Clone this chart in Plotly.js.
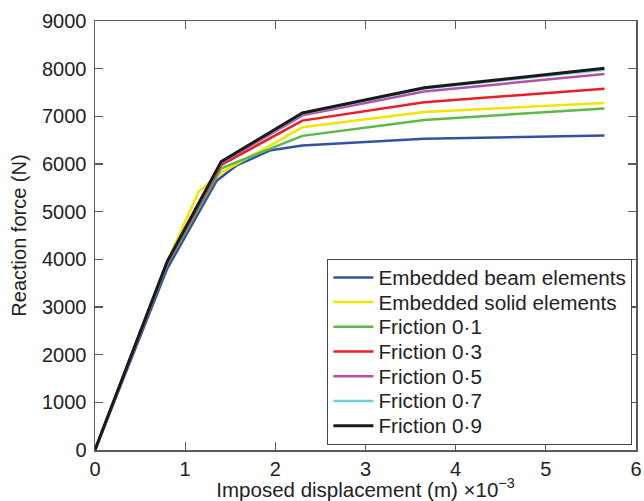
<!DOCTYPE html>
<html>
<head>
<meta charset="utf-8">
<script src="https://cdn.plot.ly/plotly-3.0.1.min.js"></script>
<style>
html,body{margin:0;padding:0;background:#fff}
#chart{width:644px;height:501px}
.legendtext{transform-box:fill-box;transform-origin:0% 50%;transform:scale(1.24,1.17)}
</style>
</head>
<body>
<div id="chart"></div>
<script>
// Imposed displacement (x 10^-3 m)
const xFriction = [0, 0.8, 1.4, 2.3, 3.65, 5.65];
const xBeam = [0, 0.8, 1.35, 1.57, 1.95, 2.3, 3.65, 5.65];
const xSolid = [0, 0.8, 1.15, 1.42, 2.3, 3.65, 5.65];

// Reaction force (N)
const yBeam = [0, 3800, 5650, 5970, 6290, 6390, 6530, 6600];
const ySolid = [0, 3950, 5420, 5840, 6770, 7090, 7280];
const yF01 = [0, 3900, 5910, 6590, 6925, 7165];
const yF03 = [0, 3920, 5980, 6910, 7295, 7580];
const yF05 = [0, 3930, 6020, 7020, 7520, 7890];
const yF07 = [0, 3940, 6040, 7055, 7585, 7975];
const yF09 = [0, 3950, 6050, 7070, 7600, 8010];

const seriesNames = ['Embedded beam elements', 'Embedded solid elements', 'Friction 0·1', 'Friction 0·3', 'Friction 0·5', 'Friction 0·7', 'Friction 0·9'];
const xTicks = [0, 1, 2, 3, 4, 5, 6];
const yTicks = [0, 1000, 2000, 3000, 4000, 5000, 6000, 7000, 8000, 9000];

const colors = ['#3352a6', '#f2e600', '#5db946', '#ee1c25', '#b650a8', '#6dcfd8', '#1a1a1a'];
const widths = [2.5, 2.5, 2.5, 2.5, 2.5, 2.5, 3];
const xs = [xBeam, xSolid, xFriction, xFriction, xFriction, xFriction, xFriction];
const ys = [yBeam, ySolid, yF01, yF03, yF05, yF07, yF09];

const traces = seriesNames.map((n, i) => ({
  x: xs[i], y: ys[i], name: n, type: 'scatter', mode: 'lines',
  line: {color: colors[i], width: widths[i]}
}));

const fontFam = 'Liberation Sans, Arial, Helvetica, sans-serif';
const axCommon = {
  showgrid: false, zeroline: false, showline: true, linecolor: '#5a5a5a', linewidth: 1.5,
  mirror: 'allticks', ticks: 'inside', ticklen: 8, tickwidth: 1.2, tickcolor: '#5a5a5a',
  tickfont: {family: fontFam, size: 20, color: '#222'}
};

const layout = {
  width: 644, height: 501,
  margin: {l: 95, r: 8, t: 21, b: 51},
  paper_bgcolor: '#fff', plot_bgcolor: '#fff',
  font: {family: fontFam, color: '#222'},
  showlegend: true,
  legend: {
    x: 0.993, xanchor: 'right', y: 0.012, yanchor: 'bottom',
    bgcolor: '#fff', bordercolor: '#444', borderwidth: 1.2,
    font: {family: fontFam, size: 16.7, color: '#222'},
    tracegroupgap: 0, itemwidth: 40
  },
  xaxis: Object.assign({}, axCommon, {
    range: [0, 6], tickvals: xTicks, ticktext: xTicks.map(String),
    title: {text: 'Imposed displacement (m) ×10<sup>−3</sup>', font: {family: fontFam, size: 20.5, color: '#222'}, standoff: 0}
  }),
  yaxis: Object.assign({}, axCommon, {
    range: [0, 9000], tickvals: yTicks, ticktext: yTicks.map(String),
    ticklabelstandoff: 3,
    title: {text: 'Reaction force (N)', font: {family: fontFam, size: 20, color: '#222'}, standoff: 10}
  })
};

Plotly.newPlot('chart', traces, layout, {displayModeBar: false, staticPlot: true});
</script>
</body>
</html>
